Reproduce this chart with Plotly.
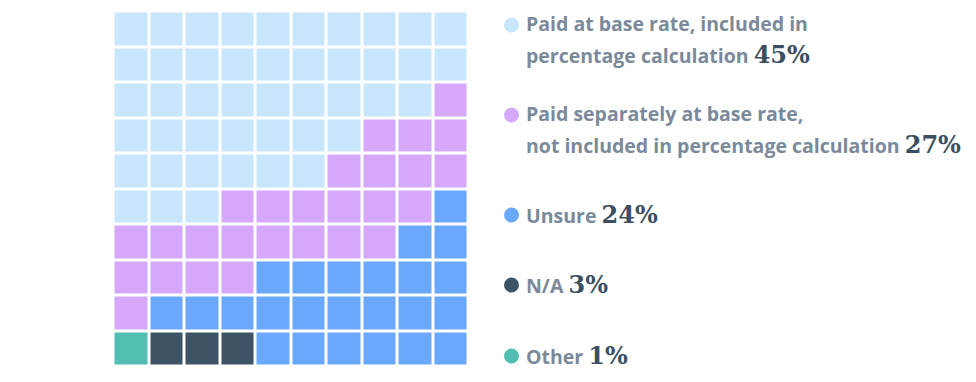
import plotly.graph_objects as go

# ---- data ----
categories = [
    "Paid at base rate, included in percentage calculation",
    "Paid separately at base rate, not included in percentage calculation",
    "Unsure",
    "N/A",
    "Other",
]
label_lines = [
    ["Paid at base rate, included in", "percentage calculation"],
    ["Paid separately at base rate,", "not included in percentage calculation"],
    ["Unsure"],
    ["N/A"],
    ["Other"],
]
percents = [45, 27, 24, 3, 1]
colors = ["#c9e7fc", "#d5a8fc", "#69a8fd", "#3d5366", "#53bfb4"]

# waffle layout: per row (top to bottom), runs of (category index, cell count) left to right
row_runs = [
    [(0, 10)],
    [(0, 10)],
    [(0, 9), (1, 1)],
    [(0, 7), (1, 3)],
    [(0, 6), (1, 4)],
    [(0, 3), (1, 6), (2, 1)],
    [(1, 8), (2, 2)],
    [(1, 4), (2, 6)],
    [(1, 1), (2, 9)],
    [(4, 1), (3, 3), (2, 6)],
]

# ---- build grid ----
z = []
for runs in row_runs:
    row = []
    for cat, n in runs:
        row.extend([cat] * n)
    z.append(row)
for i, p in enumerate(percents):
    assert sum(r.count(i) for r in z) == p

n = len(colors)
colorscale = []
for i, c in enumerate(colors):
    colorscale.append([i / n, c])
    colorscale.append([(i + 1) / n, c])

OFF = 8  # page body margin
W, H = 976 - 2 * OFF, 382 - 2 * OFF  # keep the page from scrolling


def px(x):
    return (x - OFF) / W


def py(y):
    return 1 - (y - OFF) / H


fig = go.Figure(
    go.Heatmap(
        z=z,
        x=list(range(10)),
        y=list(range(10)),
        colorscale=colorscale,
        zmin=-0.5,
        zmax=n - 0.5,
        showscale=False,
        xgap=3,
        ygap=3,
        hoverinfo="skip",
    )
)

gx0, gx1 = 113.5, 468.5
gy0, gy1 = 11.5, 366.5
fig.update_xaxes(domain=[px(gx0), px(gx1)], range=[-0.5, 9.5], visible=False, fixedrange=True)
fig.update_yaxes(domain=[py(gy1), py(gy0)], range=[9.5, -0.5], visible=False, fixedrange=True)

# ---- legend (custom) ----
text_font = "'Open Sans', sans-serif"
pct_font = "'DejaVu Serif', serif"
text_color = "#7a8a9a"
pct_color = "#3b4f63"
text_x = 525
dot_x = 511.5
dot_r = 7.5
# baselines of the label lines (px from top)
baselines = [[33, 63], [123, 153], [223], [293], [364]]
D_PLAIN = 5   # box bottom below baseline, plain line
D_PCT = 7     # box bottom below baseline, line with percentage

annotations = []
shapes = []
for i, lines in enumerate(label_lines):
    bls = baselines[i]
    for j, line in enumerate(lines):
        txt = line
        d = D_PLAIN
        if j == len(lines) - 1:
            txt = (f"{line} <span style=\"font-family:{pct_font};font-size:24px;"
                   f"color:{pct_color};font-weight:bold\">{percents[i]}%</span>")
            d = D_PCT
        annotations.append(dict(
            x=px(text_x), y=py(bls[j] + d), xref="paper", yref="paper",
            xanchor="left", yanchor="bottom", showarrow=False, text=txt,
            font=dict(family=text_font, size=19.5, color=text_color, weight="bold"),
            align="left", borderpad=0,
        ))
    cy = bls[0] - 8
    shapes.append(dict(
        type="circle", xref="paper", yref="paper",
        x0=px(dot_x - dot_r), x1=px(dot_x + dot_r),
        y0=py(cy + dot_r), y1=py(cy - dot_r),
        fillcolor=colors[i], line=dict(width=0),
    ))

fig.update_layout(
    width=W, height=H,
    margin=dict(l=0, r=0, t=0, b=0),
    paper_bgcolor="white", plot_bgcolor="white",
    annotations=annotations, shapes=shapes,
    showlegend=False,
)
fig.write_html("out.html")
